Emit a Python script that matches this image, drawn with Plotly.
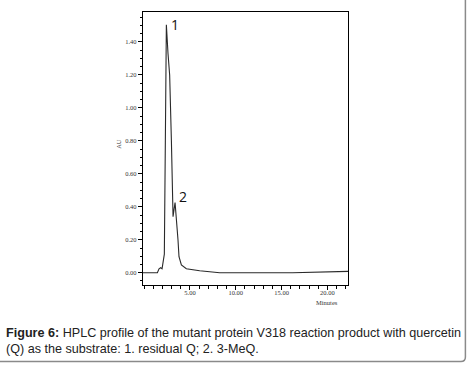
import plotly.graph_objects as go

# Chromatogram trace (Minutes vs AU)
minutes = [-0.13, 1.44, 1.62, 1.80, 1.95, 2.05, 2.20, 2.31, 2.42, 2.60, 2.78, 2.97, 3.04,
           3.15, 3.37, 3.51, 3.69, 3.80, 4.06, 4.60, 6.06, 8.24, 16.2, 22.25]
au = [0.000, 0.000, 0.024, 0.030, 0.024, 0.057, 0.113, 0.800, 1.505, 1.330, 1.200, 0.800, 0.520,
      0.340, 0.426, 0.340, 0.200, 0.097, 0.047, 0.024, 0.012, 0.000, 0.000, 0.008]

peak_labels = ["1", "2"]
peak_x = [3.33, 4.20]
peak_y = [1.505, 0.46]

y_ticks = [0.0, 0.2, 0.4, 0.6, 0.8, 1.0, 1.2, 1.4]
x_ticks = [5, 10, 15, 20]

caption_1 = "<b>Figure 6:</b> HPLC profile of the mutant protein V318 reaction product with quercetin"
caption_2 = "(Q) as the substrate: 1. residual Q; 2. 3-MeQ."

W, H = 468, 365
L, R, T, B = 143.3, 348.3, 11.7, 285.0
pw, ph = R - L, B - T


def px(x):
    return (x - L) / pw


def py(y):
    return (B - y) / ph


fig = go.Figure()
fig.add_trace(go.Scatter(x=minutes, y=au, mode="lines",
                         line=dict(color="#2a2a2a", width=1.1), showlegend=False,
                         hoverinfo="skip"))

tickfont = dict(family="Liberation Serif", size=6.5, color="#333")
fig.update_xaxes(range=[-0.13, 22.25], tickvals=x_ticks, tickformat=".2f",
                 ticks="outside", ticklen=4, tickwidth=1, tickcolor="#000",
                 ticklabelstandoff=-3,
                 minor=dict(dtick=1, tick0=0, ticks="outside", ticklen=3, tickcolor="#000"),
                 showline=True, linecolor="#000", linewidth=1.3, mirror=True,
                 showgrid=False, zeroline=False, tickfont=tickfont)
fig.update_yaxes(range=[-0.0745, 1.582], tickvals=y_ticks, tickformat=".2f",
                 ticks="outside", ticklen=4, tickwidth=1, tickcolor="#000",
                 minor=dict(dtick=0.05, tick0=0, ticks="outside", ticklen=2, tickcolor="#000"),
                 showline=True, linecolor="#000", linewidth=1.3, mirror=True,
                 showgrid=False, zeroline=False, tickfont=tickfont)

for t, xx, yy in zip(peak_labels, peak_x, peak_y):
    fig.add_annotation(x=xx, y=yy, text=t, showarrow=False, xanchor="center", yanchor="middle",
                       font=dict(family="Open Sans", size=14, color="#111"))

fig.add_annotation(xref="paper", yref="paper", x=px(118), y=py(144), text="AU", textangle=-90,
                   xanchor="center", yanchor="middle",
                   showarrow=False, font=dict(family="Liberation Serif", size=6.5, color="#333"))
fig.add_annotation(xref="paper", yref="paper", x=px(327.7), y=py(303), text="Minutes",
                   xanchor="center", yanchor="middle",
                   showarrow=False, font=dict(family="Liberation Serif", size=6.5, color="#333"))

capfont = dict(family="Liberation Sans", size=12.6, color="#222")
fig.add_annotation(xref="paper", yref="paper", x=px(4), y=py(332.7), text=caption_1,
                   xanchor="left", yanchor="middle", showarrow=False, font=capfont)
fig.add_annotation(xref="paper", yref="paper", x=px(4), y=py(348.7), text=caption_2,
                   xanchor="left", yanchor="middle", showarrow=False, font=capfont)

# frame (right and bottom edges with a rounded corner)
path = (f"M {px(-2)},{py(361.7)} L {px(461.2)},{py(361.7)} "
        f"Q {px(465.7)},{py(361.7)} {px(465.7)},{py(357.2)} L {px(465.7)},{py(-2)}")
fig.add_shape(type="path", xref="paper", yref="paper", path=path,
              line=dict(color="#8a8a8a", width=1.5))

fig.update_layout(width=W, height=H, margin=dict(l=L, r=W - R, t=T, b=H - B),
                  paper_bgcolor="white", plot_bgcolor="white")

fig.write_html("out.html", config={"displayModeBar": False},
               post_script="document.body.style.margin='0px';document.body.style.overflow='hidden';")
